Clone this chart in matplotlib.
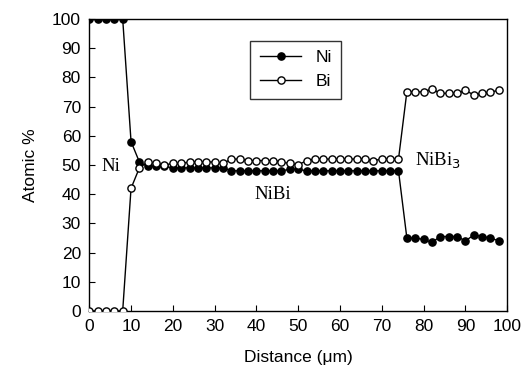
import matplotlib
matplotlib.use("Agg")
import matplotlib.pyplot as plt
import numpy as np

distance = list(range(0, 100, 2))
ni = [100, 100, 100, 100, 100, 58, 51,
      49.5, 49.5, 49.5, 49, 49, 49, 49, 49, 49, 49,
      48, 48, 48, 48, 48, 48, 48, 48.5, 48.5,
      48, 48, 48, 48, 48, 48, 48, 48, 48, 48, 48, 48,
      25, 25, 24.5, 23.5, 25.5, 25.5, 25.5, 24, 26, 25.5, 25, 24]
bi = [0, 0, 0, 0, 0, 42, 49,
      51, 50.5, 50, 50.5, 50.5, 51, 51, 51, 51, 50.5,
      52, 52, 51.5, 51.5, 51.5, 51.5, 51, 50.5, 50,
      51.5, 52, 52, 52, 52, 52, 52, 52, 51.5, 52, 52, 52,
      75, 75, 75, 76, 74.5, 74.5, 74.5, 75.5, 74, 74.5, 75, 75.5]

plt.rcParams['font.family'] = ['Liberation Sans', 'DejaVu Sans']
fig = plt.figure(figsize=(5.25, 3.77), dpi=100)
ax = fig.add_axes([0.170, 0.175, 0.796, 0.775])

ax.plot(distance, ni, '-o', color='black', markerfacecolor='black',
        markeredgecolor='black', markersize=5.2, linewidth=1, label='Ni', zorder=3)
ax.plot(distance, bi, '-o', color='black', markerfacecolor='white',
        markeredgecolor='black', markersize=5.2, linewidth=1, label='Bi', zorder=3)

ax.set_xlim(0, 100)
ax.set_ylim(0, 100)
ax.set_xticks(np.arange(0, 101, 10))
ax.set_yticks(np.arange(0, 101, 10))
ax.tick_params(direction='in', length=4, labelsize=12.5, pad=6)
ax.set_xlabel('Distance (\u03bcm)', fontsize=12.5, labelpad=11)
ax.set_ylabel('Atomic %', fontsize=12.5, labelpad=10)
for s in ax.spines.values():
    s.set_linewidth(1)

serif = ['Liberation Serif', 'DejaVu Serif']
ax.text(3, 49.5, 'Ni', fontsize=13.5, family=serif, va='center', ha='left')
ax.text(39.5, 40, 'NiBi', fontsize=13.5, family=serif, va='center', ha='left')
ax.text(78, 51.5, 'NiBi$_3$', fontsize=13.5, family=serif, va='center', ha='left')

leg = ax.legend(loc='upper left', bbox_to_anchor=(0.385, 0.925), borderaxespad=0,
                fontsize=12.5, frameon=True, fancybox=False, edgecolor='black',
                handlelength=2.4, borderpad=0.55, labelspacing=0.5)
leg.get_frame().set_linewidth(1)

fig.savefig('out.png', dpi=100)
